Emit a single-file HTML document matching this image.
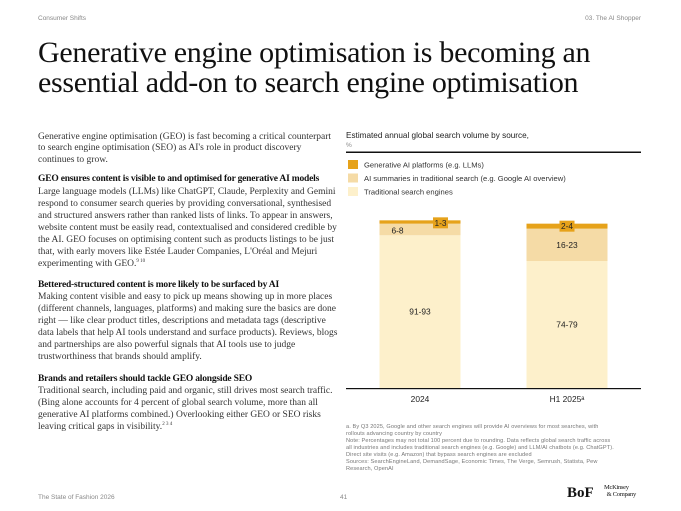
<!DOCTYPE html>
<html><head><meta charset="utf-8"><style>
body{margin:0;width:681px;height:511px;background:#fff;position:relative;overflow:hidden;font-family:"Liberation Sans",sans-serif}
.l{position:absolute;left:38px;white-space:nowrap;font-family:"Liberation Serif",serif;font-size:9.5px;color:#333;letter-spacing:0px}
.b{font-weight:bold;color:#111;letter-spacing:-0.2px}
.t{position:absolute;left:38px;white-space:nowrap;font-family:"Liberation Serif",serif;font-size:30px;color:#111;letter-spacing:-0.3px}
.s{position:absolute;font-size:6.5px;color:#888}
.f{position:absolute;left:346px;white-space:nowrap;font-size:5.6px;color:#777;letter-spacing:0.1px}
</style></head><body>
<div class="s" style="left:38px;top:15px">Consumer Shifts</div>
<div class="s" style="right:40px;top:15px">03. The AI Shopper</div>
<div class="t" style="top:36px">Generative engine optimisation is becoming an</div>
<div class="t" style="top:66px">essential add-on to search engine optimisation</div>
<div>
<div class="l" style="top:132px">Generative engine optimisation (GEO) is fast becoming a critical counterpart</div>
<div class="l" style="top:143px">to search engine optimisation (SEO) as AI's role in product discovery</div>
<div class="l" style="top:155px">continues to grow.</div>
<div class="l b" style="top:174px">GEO ensures content is visible to and optimised for generative AI models</div>
<div class="l" style="top:187px">Large language models (LLMs) like ChatGPT, Claude, Perplexity and Gemini</div>
<div class="l" style="top:199px">respond to consumer search queries by providing conversational, synthesised</div>
<div class="l" style="top:211px">and structured answers rather than ranked lists of links. To appear in answers,</div>
<div class="l" style="top:223px">website content must be easily read, contextualised and considered credible by</div>
<div class="l" style="top:235px">the AI. GEO focuses on optimising content such as products listings to be just</div>
<div class="l" style="top:247px">that, with early movers like Estée Lauder Companies, L'Oréal and Mejuri</div>
<div class="l" style="top:259px">experimenting with GEO.<sup style="font-size:5px">9 10</sup></div>
<div class="l b" style="top:280px">Bettered-structured content is more likely to be surfaced by AI</div>
<div class="l" style="top:292px">Making content visible and easy to pick up means showing up in more places</div>
<div class="l" style="top:304px">(different channels, languages, platforms) and making sure the basics are done</div>
<div class="l" style="top:316px">right — like clear product titles, descriptions and metadata tags (descriptive</div>
<div class="l" style="top:328px">data labels that help AI tools understand and surface products). Reviews, blogs</div>
<div class="l" style="top:340px">and partnerships are also powerful signals that AI tools use to judge</div>
<div class="l" style="top:352px">trustworthiness that brands should amplify.</div>
<div class="l b" style="top:374px">Brands and retailers should tackle GEO alongside SEO</div>
<div class="l" style="top:386px">Traditional search, including paid and organic, still drives most search traffic.</div>
<div class="l" style="top:398px">(Bing alone accounts for 4 percent of global search volume, more than all</div>
<div class="l" style="top:410px">generative AI platforms combined.) Overlooking either GEO or SEO risks</div>
<div class="l" style="top:422px">leaving critical gaps in visibility.<sup style="font-size:5px">2 3 4</sup></div>
</div>
<svg id="chart" width="681" height="511" style="position:absolute;left:0;top:0"></svg>
<div>
<div class="f" style="top:424px">a. By Q3 2025, Google and other search engines will provide AI overviews for most searches, with</div>
<div class="f" style="top:431px">rollouts advancing country by country</div>
<div class="f" style="top:438px">Note: Percentages may not total 100 percent due to rounding. Data reflects global search traffic across</div>
<div class="f" style="top:445px">all industries and includes traditional search engines (e.g. Google) and LLM/AI chatbots (e.g. ChatGPT).</div>
<div class="f" style="top:452px">Direct site visits (e.g. Amazon) that bypass search engines are excluded</div>
<div class="f" style="top:459px">Sources: SearchEngineLand, DemandSage, Economic Times, The Verge, Semrush, Statista, Pew</div>
<div class="f" style="top:466px">Research, OpenAI</div>
</div>
<div class="s" style="left:38px;top:494px">The State of Fashion 2026</div>
<div class="s" style="left:340px;top:494px">41</div>
<div style="position:absolute;left:567px;top:485px;font-family:'Liberation Serif',serif;font-weight:bold;font-size:15px;color:#111">BoF</div>
<div style="position:absolute;left:604px;top:484px;font-family:'Liberation Serif',serif;font-size:6.5px;line-height:7px;color:#111;letter-spacing:-0.3px">McKinsey<br>&nbsp;&nbsp;&amp; Company</div>
<script>
const categories=["2024","H1 2025\u1D43"];
const traditional=[92,76.5];
const summaries=[7,19.5];
const generative=[2,3];
const labelsTrad=["91-93","74-79"];
const labelsSumm=["6-8","16-23"];
const labelsGen=["1-3","2-4"];
const NS="http://www.w3.org/2000/svg";
const svg=document.getElementById('chart');
function mk(t,a,txt){const e=document.createElementNS(NS,t);for(const k in a)e.setAttribute(k,a[k]);if(txt!=null)e.textContent=txt;svg.appendChild(e);return e;}
const base=388,unit=1.66,bw=81;
const xc=i=>420+i*147;
const y=v=>base-v*unit;
const C={g:"#e6a21a",s:"#f5dba6",t:"#fdf0cb"};
let e;
e=mk('text',{x:346,y:138,'font-size':8.2,fill:'#222'},'Estimated annual global search volume by source,');

e=mk('text',{x:346,y:147,'font-size':6.5,fill:'#888'},'%');

e=mk('rect',{x:346,y:151.5,width:295,height:1.5,fill:'#111'});

const leg=[["Generative AI platforms (e.g. LLMs)",C.g],["AI summaries in traditional search (e.g. Google AI overview)",C.s],["Traditional search engines",C.t]];
leg.forEach((l,i)=>{
 const r=mk('rect',{x:348,y:160+i*13.5,width:10,height:9,fill:l[1]});
 
 const t=mk('text',{x:364,y:167.5+i*13.5,'font-size':7.6,fill:'#333'},l[0]);
 
});
categories.forEach((c,i)=>{
 const x0=xc(i)-bw/2;
 const y1=y(traditional[i]),y2=y(traditional[i]+summaries[i]),y3=y(traditional[i]+summaries[i]+generative[i]);
 let r=mk('rect',{x:x0,y:y1,width:bw,height:base-y1,fill:C.t});
 
 r=mk('rect',{x:x0,y:y2,width:bw,height:y1-y2,fill:C.s});
 
 r=mk('rect',{x:x0,y:y3,width:bw,height:y2-y3,fill:C.g});
 
 let t=mk('text',{x:xc(i),y:(y1+base)/2+3,'font-size':8.4,fill:'#222','text-anchor':'middle'},labelsTrad[i]);
 
 const sx=i===0?x0+18:xc(i);
 t=mk('text',{x:sx,y:(y1-y2)>15?(y1+y2)/2+3:y2+10,'font-size':8.4,fill:'#222','text-anchor':'middle'},labelsSumm[i]);
 
 const gx=i===0?x0+bw-20:xc(i);
 let b=mk('rect',{x:gx-7.5,y:y3-3,width:15,height:11,fill:C.g});
 
 t=mk('text',{x:gx,y:y3+5.5,'font-size':8.4,fill:'#222','text-anchor':'middle'},labelsGen[i]);
 
 t=mk('text',{x:xc(i),y:402,'font-size':8.4,fill:'#222','text-anchor':'middle'},c);
 
});
e=mk('rect',{x:346,y:base,width:295,height:1.2,fill:'#111'});

</script>
</body></html>
